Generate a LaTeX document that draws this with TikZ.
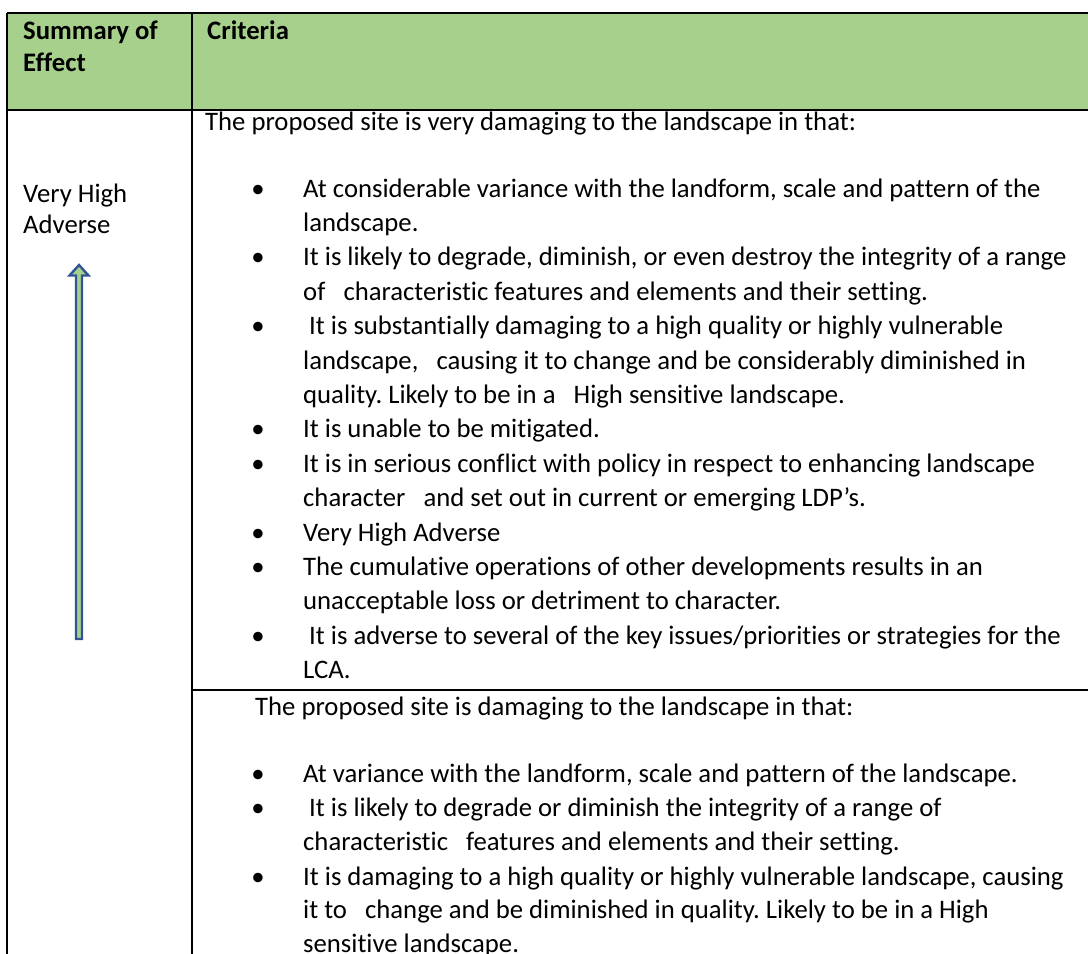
\documentclass[tikz,border=0pt]{standalone}
\usepackage{fontspec}
\setmainfont[Ligatures=CommonOff]{Carlito}
\definecolor{hdrgreen}{HTML}{A8D08D}
\definecolor{arrowblue}{HTML}{2F5597}
\frenchspacing
\tikzset{
  txt/.style={anchor=base west, inner sep=0pt, font=\fontsize{26.7}{34}\selectfont},
  hdrtxt/.style={anchor=base west, inner sep=0pt, font=\fontsize{26.7}{32}\selectfont\bfseries},
  bul/.style={anchor=base, inner sep=0pt, font=\fontsize{26.7}{34}\selectfont},
  gridrule/.style={line width=2pt, black},
  thinrule/.style={line width=1.5pt, black},
  uparrow/.style={fill=hdrgreen, draw=arrowblue, line width=2.4pt, line join=miter}
}
\begin{document}
\begin{tikzpicture}[x=1pt,y=-1pt]
\useasboundingbox (0,0) rectangle (1088,954);
\clip (0,0) rectangle (1088,954);
% grid coordinates
\coordinate (tl) at (7,13);
\coordinate (tm) at (192,13);
\coordinate (tr) at (1090,13);
\coordinate (hl) at (7,110);
\coordinate (hm) at (192,110);
\coordinate (hr) at (1090,110);
\coordinate (bl) at (7,956);
\coordinate (bm) at (192,956);
\coordinate (rm) at (192,690);
\coordinate (rr) at (1090,690);
% header fill
\fill[hdrgreen] (tl) rectangle (hr);
% rules
\draw[gridrule] (tl) -- (tr);
\draw[gridrule] (hl) -- (hr);
\draw[gridrule] (tl) -- (bl);
\draw[gridrule] (tm) -- (bm);
\draw[thinrule] (rm) -- (rr);
% header text
\node[hdrtxt] (h1a) at (23,39) {Summary of};
\node[hdrtxt] (h1b) at (23,71) {Effect};
\node[hdrtxt] (h2) at (207,39) {Criteria};
% left column
\node[txt] (eff1a) at (23,202) {Very High};
\node[txt] (eff1b) at (23,233) {Adverse};
% arrow
\draw[uparrow] (79,265) -- (88.5,275.5) -- (82,275.5) -- (82,639) -- (76,639) -- (76,275.5) -- (69.5,275.5) -- cycle;
% row 1
\node[txt] (r1i) at (205,130) {The proposed site is very damaging to the landscape in that:};
\node[bul] (b1) at (258,197) {•};
\node[txt] (r1l1) at (303,197) {At considerable variance with the landform, scale and pattern of the};
\node[txt] (r1l2) at (303,231.4) {landscape.};
\node[bul] (b3) at (258,265.8) {•};
\node[txt] (r1l3) at (303,265.8) {It is likely to degrade, diminish, or even destroy the integrity of a range};
\node[txt] (r1l4) at (303,300.2) {of~~~characteristic features and elements and their setting.};
\node[bul] (b5) at (258,334.6) {•};
\node[txt] (r1l5) at (303,334.6) {~It is substantially damaging to a high quality or highly vulnerable};
\node[txt] (r1l6) at (303,369) {landscape,~~~causing it to change and be considerably diminished in};
\node[txt] (r1l7) at (303,403.4) {quality. Likely to be in a~~~High sensitive landscape.};
\node[bul] (b8) at (258,437.8) {•};
\node[txt] (r1l8) at (303,437.8) {It is unable to be mitigated.};
\node[bul] (b9) at (258,472.2) {•};
\node[txt] (r1l9) at (303,472.2) {It is in serious conflict with policy in respect to enhancing landscape};
\node[txt] (r1l10) at (303,506.6) {character~~~and set out in current or emerging LDP’s.};
\node[bul] (b11) at (258,541) {•};
\node[txt] (r1l11) at (303,541) {Very High Adverse};
\node[bul] (b12) at (258,575.4) {•};
\node[txt] (r1l12) at (303,575.4) {The cumulative operations of other developments results in an};
\node[txt] (r1l13) at (303,609.8) {unacceptable loss or detriment to character.};
\node[bul] (b14) at (258,644.2) {•};
\node[txt] (r1l14) at (303,644.2) {~It is adverse to several of the key issues/priorities or strategies for the};
\node[txt] (r1l15) at (303,678.6) {LCA.};
% row 2
\node[txt] (r2i) at (255,715) {The proposed site is damaging to the landscape in that:};
\node[bul] (c1) at (258,782) {•};
\node[txt] (r2l1) at (303,782) {At variance with the landform, scale and pattern of the landscape.};
\node[bul] (c2) at (258,816.5) {•};
\node[txt] (r2l2) at (303,816.5) {~It is likely to degrade or diminish the integrity of a range of};
\node[txt] (r2l3) at (303,850.5) {characteristic~~~features and elements and their setting.};
\node[bul] (c4) at (258,885) {•};
\node[txt] (r2l4) at (303,885) {It is damaging to a high quality or highly vulnerable landscape, causing};
\node[txt] (r2l5) at (303,918.5) {it to~~~change and be diminished in quality. Likely to be in a High};
\node[txt] (r2l6) at (303,952) {sensitive landscape.};
\end{tikzpicture}
\end{document}
